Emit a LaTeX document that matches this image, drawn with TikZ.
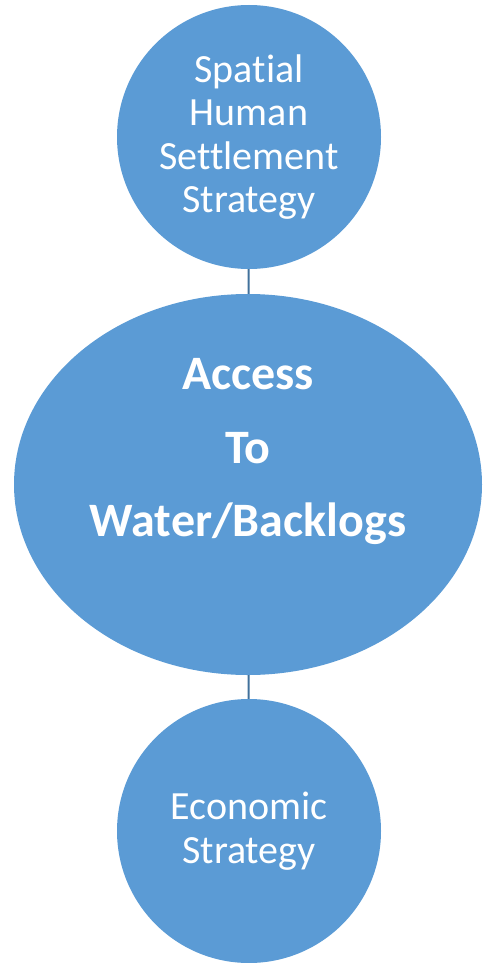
\documentclass[tikz,border=0pt]{standalone}
\usepackage{fontspec}
\setmainfont{Carlito}[Ligatures=NoCommon]
\usetikzlibrary{shapes.geometric}

\definecolor{bubblefill}{HTML}{5B9BD5}
\definecolor{bubbleline}{HTML}{41719C}

\tikzset{
    bubble/.style={circle, fill=bubblefill, inner sep=0pt, minimum size=264pt,
        text=white, align=center, font=\fontsize{40}{43.5}\selectfont},
    hub/.style={ellipse, fill=bubblefill, inner sep=0pt, minimum width=468pt,
        minimum height=381pt},
    hubtext/.style={text=white, align=center, font=\bfseries\fontsize{48}{73.5}\selectfont},
    link/.style={bubbleline, line width=2pt}
}

\begin{document}
\begin{tikzpicture}[x=1pt, y=1pt]
    \useasboundingbox (0,0) rectangle (482,-963);
    % the three strategies, top to bottom
    \node[bubble] (spatial) at (249,-137) {Spatial\\Human\\Settlement\\Strategy};
    \node[hub] (water) at (248,-484.5) {};
    \node[hubtext] (watertext) at ([yshift=33pt]water.center) {Access\\To\\Water/Backlogs};
    \node[bubble] (economic) at (249,-831) {Economic\\Strategy};
    % short links between them
    \draw[link] (spatial) -- (water);
    \draw[link] (water) -- (economic);
\end{tikzpicture}
\end{document}
